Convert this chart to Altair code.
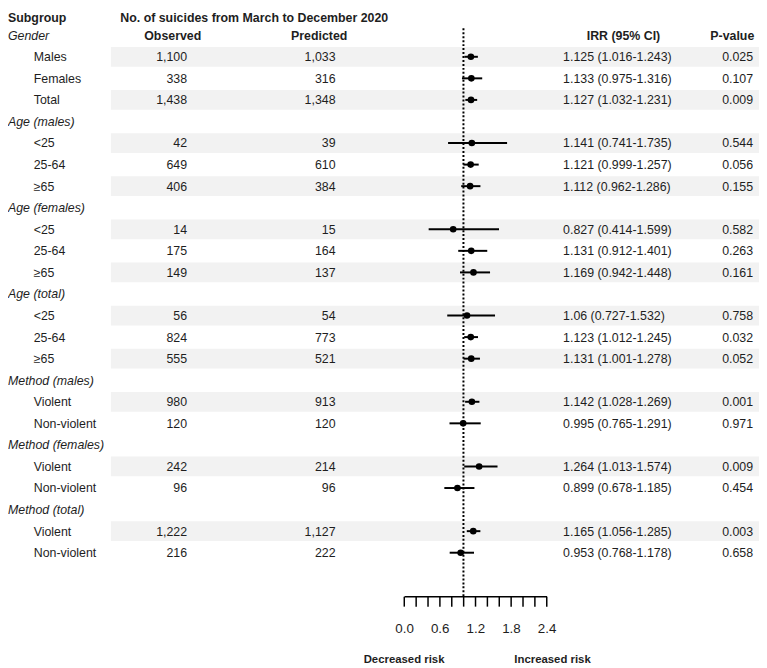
import altair as alt
import pandas as pd

# ---------------- data ----------------
groups = ["Gender", "Age (males)", "Age (females)", "Age (total)",
          "Method (males)", "Method (females)", "Method (total)"]
group_items = [
    ["Males", "Females", "Total"],
    ["<25", "25-64", "≥65"],
    ["<25", "25-64", "≥65"],
    ["<25", "25-64", "≥65"],
    ["Violent", "Non-violent"],
    ["Violent", "Non-violent"],
    ["Violent", "Non-violent"],
]
observed = [1100, 338, 1438, 42, 649, 406, 14, 175, 149, 56, 824, 555, 980, 120, 242, 96, 1222, 216]
predicted = [1033, 316, 1348, 39, 610, 384, 15, 164, 137, 54, 773, 521, 913, 120, 214, 96, 1127, 222]
irr = [1.125, 1.133, 1.127, 1.141, 1.121, 1.112, 0.827, 1.131, 1.169, 1.06, 1.123, 1.131,
       1.142, 0.995, 1.264, 0.899, 1.165, 0.953]
lower = [1.016, 0.975, 1.032, 0.741, 0.999, 0.962, 0.414, 0.912, 0.942, 0.727, 1.012, 1.001,
         1.028, 0.765, 1.013, 0.678, 1.056, 0.768]
upper = [1.243, 1.316, 1.231, 1.735, 1.257, 1.286, 1.599, 1.401, 1.448, 1.532, 1.245, 1.278,
         1.269, 1.291, 1.574, 1.185, 1.285, 1.178]
pvalue = ["0.025", "0.107", "0.009", "0.544", "0.056", "0.155", "0.582", "0.263", "0.161",
          "0.758", "0.032", "0.052", "0.001", "0.971", "0.009", "0.454", "0.003", "0.658"]
axis_ticks = [0.0, 0.2, 0.4, 0.6, 0.8, 1.0, 1.2, 1.4, 1.6, 1.8, 2.0, 2.2, 2.4]
reference_value = [1.0]
footer_labels = ["Decreased risk", "Increased risk"]
footer_pos = [0.0, 2.5]
column_headers = ["Observed", "Predicted", "IRR (95% CI)", "P-value"]

# ---------------- tables ----------------
rows, grp_rows = [], []
r, k = 1, 0
for g, items in zip(groups, group_items):
    grp_rows.append({"row": r, "label": g})
    r += 1
    for j, it in enumerate(items):
        rows.append({
            "row": r, "label": it,
            "obs": f"{observed[k]:,}", "pred": f"{predicted[k]:,}",
            "irr": irr[k], "lo": lower[k], "hi": upper[k],
            "irr_txt": f"{irr[k]} ({lower[k]}-{upper[k]})",
            "p": pvalue[k], "stripe": j % 2 == 0,
        })
        r += 1
        k += 1
df = pd.DataFrame(rows)
gdf = pd.DataFrame(grp_rows)
hdf = pd.DataFrame({"row": [1] * 4, "label": column_headers})
refdf = pd.DataFrame({"ref": reference_value})
fdf = pd.DataFrame({"pos": footer_pos, "label": footer_labels})

FONT = "Liberation Sans"
FS = 12.5
TXT = "#1e1e1e"

yscale = alt.Scale(domain=[1, 25], range=[24, 547], nice=False, zero=False)
xscale = alt.Scale(domain=[0, 2.4], range=[400.3, 544.3], nice=False, zero=False)
xaxis = alt.Axis(
    values=axis_ticks, title=None, grid=False,
    labelExpr="(round(datum.value*10) % 6 == 0) ? format(datum.value, '.1f') : ''",
    labelOverlap=False, labelFlush=False, labelFontSize=13.5, labelFont=FONT,
    labelColor=TXT, labelBaseline="alphabetic", labelPadding=27, tickSize=10,
    tickWidth=1.5, tickColor="black", domainColor="black", domainWidth=1.5,
)
Y = alt.Y("row:Q", scale=yscale, axis=None)

stripes = alt.Chart(df).transform_filter("datum.stripe").mark_rule(
    color="#f2f2f2", strokeWidth=20
).encode(x=alt.value(104), x2=alt.value(759), y=Y)


def txt(data, field, xpos, align, **kw):
    return alt.Chart(data).mark_text(
        align=align, baseline="alphabetic", dy=4.5, font=FONT, fontSize=FS,
        color=TXT, **kw
    ).encode(x=alt.value(xpos), y=Y, text=f"{field}:N")


group_txt = txt(gdf, "label", 0, "left", fontStyle="italic")
sub_txt = txt(df, "label", 26, "left")
obs_txt = txt(df, "obs", 181, "right")
pred_txt = txt(df, "pred", 331, "right")
irr_txt = txt(df, "irr_txt", 561, "left")
p_txt = txt(df, "p", 753, "right")

hdr_pos = [166.5, 314.5, 622, 732]
hdr_layers = [
    alt.Chart(hdf.iloc[[i]]).mark_text(
        align="center", baseline="alphabetic", dy=4.5, font=FONT, fontSize=FS,
        fontWeight="bold", color=TXT
    ).encode(x=alt.value(hdr_pos[i]), y=Y, text="label:N")
    for i in range(4)
]

top_df = pd.DataFrame({"label": ["Subgroup", "No. of suicides from March to December 2020"]})
top1 = alt.Chart(top_df.iloc[[0]]).mark_text(
    align="left", baseline="alphabetic", font=FONT, fontSize=FS, fontWeight="bold", color=TXT
).encode(x=alt.value(0), y=alt.value(11), text="label:N")
top2 = alt.Chart(top_df.iloc[[1]]).mark_text(
    align="left", baseline="alphabetic", font=FONT, fontSize=FS, fontWeight="bold", color=TXT
).encode(x=alt.value(113.5), y=alt.value(11), text="label:N")

refline = alt.Chart(refdf).mark_rule(
    color="black", strokeWidth=2, strokeDash=[2, 2]
).encode(x=alt.X("ref:Q", scale=xscale, axis=xaxis), y=alt.value(17), y2=alt.value(591))

ci = alt.Chart(df).mark_rule(color="black", strokeWidth=2, yOffset=0).encode(
    x=alt.X("lo:Q", scale=xscale, axis=xaxis), x2="hi:Q", y=Y
)
pts = alt.Chart(df).mark_circle(color="black", opacity=1, size=45).encode(
    x=alt.X("irr:Q", scale=xscale, axis=xaxis), y=Y
)

footer = alt.Chart(fdf).mark_text(
    align="center", baseline="alphabetic", font=FONT, fontSize=11.5, fontWeight="bold",
    color=TXT
).encode(x=alt.X("pos:Q", scale=xscale, axis=xaxis), y=alt.value(658), text="label:N")

chart = alt.layer(
    stripes, refline, ci, pts, group_txt, sub_txt, obs_txt, pred_txt, irr_txt, p_txt,
    *hdr_layers, top1, top2, footer
).properties(
    width=759, height=591,
    padding={"left": 0, "top": 0, "right": 0, "bottom": 69},
    autosize="none", background="white",
).configure_view(stroke=None)

chart.save("out.html", embed_options={"renderer": "svg", "actions": False})
